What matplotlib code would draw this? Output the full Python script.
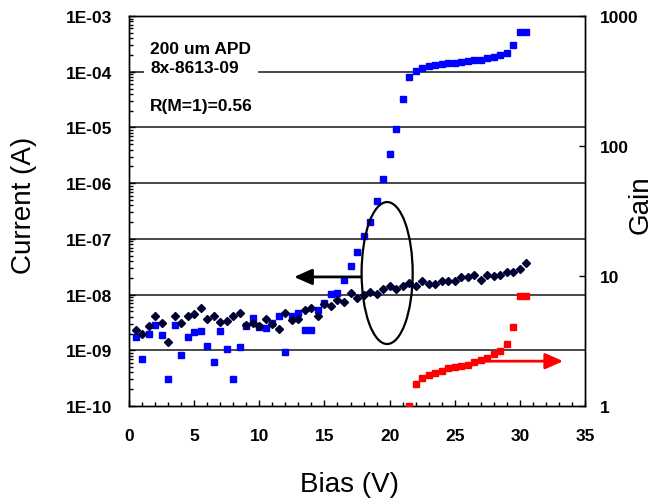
import matplotlib
matplotlib.use("Agg")
import matplotlib.pyplot as plt
from matplotlib.patches import Ellipse
from matplotlib.ticker import FixedLocator, FixedFormatter, LogLocator, NullFormatter

plt.rcParams['font.family'] = ['Liberation Sans', 'DejaVu Sans']

# dark current (black diamonds), left axis, A
dark_bias = [0.5, 1.0, 1.5, 2.0, 2.5, 3.0, 3.5, 4.0, 4.5, 5.0, 5.5, 6.0, 6.5, 7.0, 7.5,
             8.0, 8.5, 9.0, 9.5, 10.0, 10.5, 11.0, 11.5, 12.0, 12.5, 13.0, 13.5, 14.0,
             14.5, 15.0, 15.5, 16.0, 16.5, 17.0, 17.5, 18.0, 18.5, 19.0, 19.5, 20.0,
             20.5, 21.0, 21.5, 22.0, 22.5, 23.0, 23.5, 24.0, 24.5, 25.0, 25.5, 26.0,
             26.5, 27.0, 27.5, 28.0, 28.5, 29.0, 29.5, 30.0, 30.5]
dark_current = [2.3e-9, 2.0e-9, 2.7e-9, 4.1e-9, 3.1e-9, 1.4e-9, 4.1e-9, 3.1e-9, 4.1e-9,
                4.4e-9, 5.7e-9, 3.6e-9, 4.2e-9, 3.25e-9, 3.4e-9, 4.1e-9, 4.65e-9, 2.9e-9,
                3.1e-9, 2.7e-9, 3.6e-9, 3.0e-9, 2.4e-9, 4.65e-9, 3.5e-9, 3.6e-9, 5.3e-9,
                5.7e-9, 4.2e-9, 6.8e-9, 6.3e-9, 8.1e-9, 7.5e-9, 1.05e-8, 8.8e-9, 1.0e-8,
                1.1e-8, 1.02e-8, 1.26e-8, 1.4e-8, 1.26e-8, 1.4e-8, 1.59e-8, 1.4e-8,
                1.77e-8, 1.55e-8, 1.55e-8, 1.77e-8, 1.77e-8, 1.77e-8, 2.04e-8, 2.04e-8,
                2.27e-8, 1.84e-8, 2.27e-8, 2.12e-8, 2.27e-8, 2.57e-8, 2.57e-8, 2.87e-8,
                3.68e-8]

# photocurrent (blue squares), left axis, A
photo_bias = dark_bias
photo_current = [1.73e-9, 6.9e-10, 1.93e-9, 2.8e-9, 1.85e-9, 3.1e-10, 2.8e-9, 8.4e-10,
                 1.73e-9, 2.1e-9, 2.2e-9, 1.2e-9, 6.1e-10, 2.2e-9, 1.06e-9, 3.1e-10,
                 1.13e-9, 2.7e-9, 3.8e-9, 2.64e-9, 2.47e-9, 3.04e-9, 4.06e-9, 9.4e-10,
                 4.2e-9, 4.6e-9, 2.33e-9, 2.33e-9, 5.3e-9, 7.0e-9, 1.01e-8, 1.08e-8,
                 1.82e-8, 3.2e-8, 5.9e-8, 1.11e-7, 2.03e-7, 4.8e-7, 1.18e-6, 3.3e-6,
                 9.3e-6, 3.3e-5, 7.9e-5, 1.04e-4, 1.18e-4, 1.28e-4, 1.32e-4, 1.37e-4,
                 1.45e-4, 1.45e-4, 1.49e-4, 1.56e-4, 1.62e-4, 1.62e-4, 1.74e-4, 1.84e-4,
                 1.97e-4, 2.19e-4, 3.0e-4, 5.2e-4, 5.2e-4]

# gain (red squares), right axis
gain_bias = [21.5, 22.0, 22.5, 23.0, 23.5, 24.0, 24.5, 25.0, 25.5, 26.0, 26.5, 27.0,
             27.5, 28.0, 28.5, 29.0, 29.5, 30.0, 30.5]
gain = [1.0, 1.48, 1.64, 1.73, 1.79, 1.87, 1.95, 1.99, 2.02, 2.08, 2.17, 2.26, 2.34,
        2.50, 2.65, 3.0, 4.05, 7.0, 7.0]

current_ticks = [1e-10, 1e-9, 1e-8, 1e-7, 1e-6, 1e-5, 1e-4, 1e-3]
current_labels = ['1E-10', '1E-09', '1E-08', '1E-07', '1E-06', '1E-05', '1E-04', '1E-03']
gain_ticks = [1, 10, 100, 1000]
gain_labels = ['1', '10', '100', '1000']
bias_ticks = [0, 5, 10, 15, 20, 25, 30, 35]

fig = plt.figure(figsize=(6.61, 5.02), dpi=100)
ax = fig.add_axes([0.1952, 0.1892, 0.6899, 0.7769])

ax.set_xlim(0, 35)
ax.set_yscale('log')
ax.set_ylim(1e-10, 1e-3)

# horizontal grid lines at the inner decades
for t in current_ticks[1:-1]:
    ax.axhline(t, color='#3a3a3a', lw=1.3, zorder=1)

ax.plot(photo_bias, photo_current, 's', color='#0000ff', ms=4.6, mec='#0000ff', zorder=4)
ax.plot(dark_bias, dark_current, 'D', color='#000033', ms=3.8, mec='#000033', zorder=5)

ax.yaxis.set_major_locator(FixedLocator(current_ticks))
ax.yaxis.set_major_formatter(FixedFormatter(current_labels))
ax.yaxis.set_minor_locator(LogLocator(base=10, subs=range(2, 10), numticks=20))
ax.yaxis.set_minor_formatter(NullFormatter())
ax.set_xticks(bias_ticks)
ax.set_xticks(range(0, 36), minor=True)

ax.tick_params(axis='both', which='major', direction='in', length=4, width=1,
               labelsize=12.5)
ax.tick_params(axis='both', which='minor', direction='in', length=3, width=1)
ax.tick_params(axis='x', which='major', pad=16)
ax.tick_params(axis='y', which='major', pad=12)
for lab in ax.get_xticklabels() + ax.get_yticklabels():
    lab.set_fontweight('bold')

ax2 = ax.twinx()
ax2.set_yscale('log')
ax2.set_ylim(1, 1000)
ax2.plot(gain_bias, gain, 's', color='#ff0000', ms=4.6, mec='#ff0000', zorder=4)
ax2.yaxis.set_major_locator(FixedLocator(gain_ticks))
ax2.yaxis.set_major_formatter(FixedFormatter(gain_labels))
ax2.yaxis.set_minor_locator(FixedLocator([]))
ax2.tick_params(axis='y', which='major', direction='in', length=4, width=1,
                labelsize=12.5, pad=11)
for lab in ax2.get_yticklabels():
    lab.set_fontweight('bold')

for a in (ax, ax2):
    for s in a.spines.values():
        s.set_color('black')
        s.set_linewidth(1.0)

fig.text(350 / 661, 1 - 485 / 502, 'Bias (V)', fontsize=20, ha='center', va='center')
fig.text(24 / 661, 1 - 205 / 502, 'Current (A)', fontsize=20, ha='center', va='center',
         rotation=90)
fig.text(641 / 661, 1 - 205 / 502, 'Gain', fontsize=20, ha='center', va='center',
         rotation=90)

ax.text(0.046, 0.935, '200 um APD\n8x-8613-09\n\nR(M=1)=0.56', transform=ax.transAxes,
        ha='left', va='top', fontsize=12.5, fontweight='bold', linespacing=1.33,
        bbox=dict(facecolor='white', edgecolor='none', pad=4), zorder=3)

# ellipse around the curves and the axis arrows
ax2.add_patch(Ellipse((0.566, 0.341), 0.112, 0.364, transform=ax.transAxes,
                      fill=False, edgecolor='black', lw=1.6, zorder=6))
ax2.annotate('', xy=(0.362, 0.331), xytext=(0.509, 0.331), xycoords='axes fraction',
             arrowprops=dict(arrowstyle='-|>,head_length=0.9,head_width=0.4',
                             mutation_scale=12, color='black', lw=2, shrinkA=0, shrinkB=0))
ax2.annotate('', xy=(0.952, 0.115), xytext=(0.781, 0.115), xycoords='axes fraction',
             arrowprops=dict(arrowstyle='-|>,head_length=0.9,head_width=0.4',
                             mutation_scale=12, color='#ff0000', lw=2, shrinkA=0, shrinkB=0))

fig.savefig('out.png', dpi=100)
